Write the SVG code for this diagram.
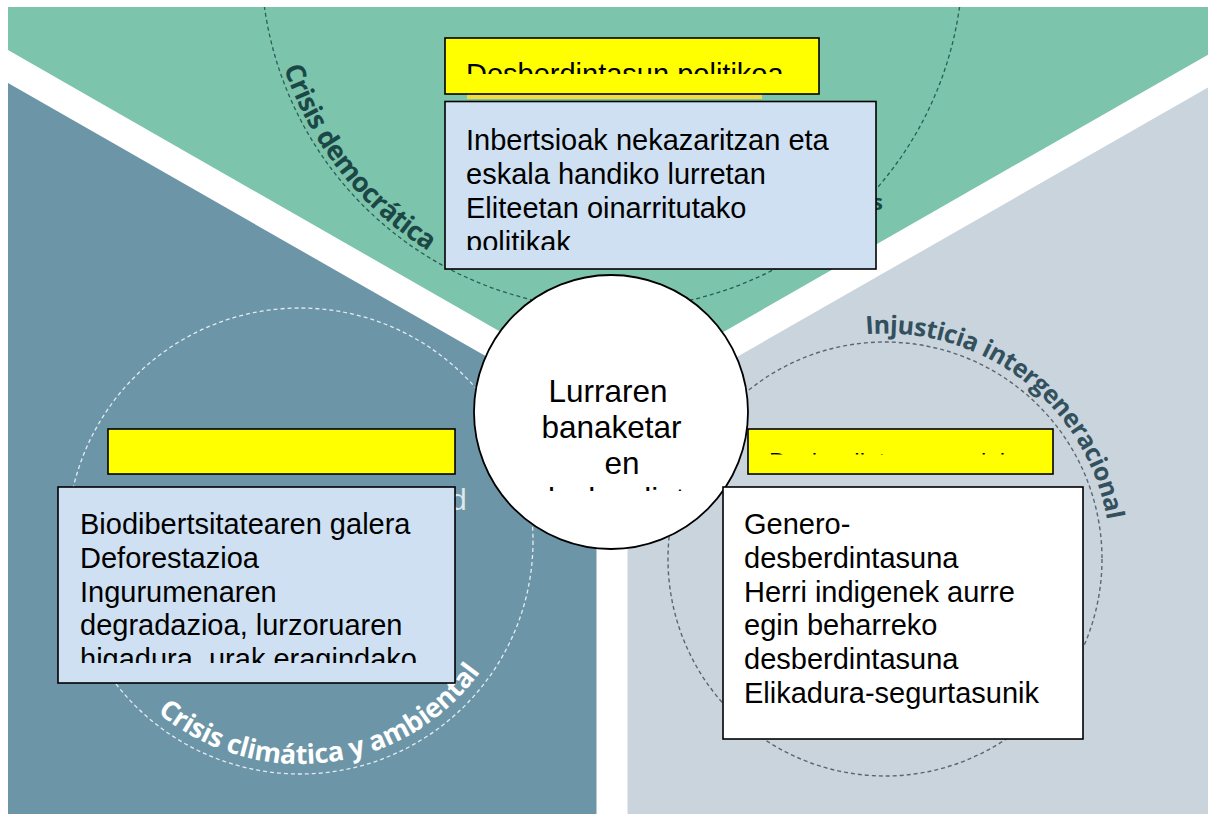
<svg xmlns="http://www.w3.org/2000/svg" width="1208" height="814" viewBox="0 0 1208 814">
  <style>
    .box { stroke: #000; stroke-width: 1.6; }
    .title { fill: #ffff00; }
    .blue { fill: #cfe0f2; }
    .white { fill: #ffffff; }
    .t { font-family: "Liberation Sans", Arial, sans-serif; font-size: 29px; fill: #000; }
    .t24 { font-family: "Liberation Sans", Arial, sans-serif; font-size: 24px; fill: #000; }
    .ct { font-family: "Liberation Sans", Arial, sans-serif; font-size: 31.5px; fill: #000; text-anchor: middle; }
    .arc { font-family: "Open Sans", "DejaVu Sans", sans-serif; font-weight: 700; }
    .band { stroke: #ffffff; fill: none; }
  </style>
  <defs>
    <clipPath id="clipArea"><rect x="8" y="7" width="1200" height="807"/></clipPath>
    <clipPath id="clipTopTitle"><rect x="445" y="38" width="375" height="36"/></clipPath>
    <clipPath id="clipTopBox"><rect x="445" y="101" width="431" height="149"/></clipPath>
    <clipPath id="clipLeftBox"><rect x="58" y="487" width="397" height="176"/></clipPath>
    <clipPath id="clipRightTitle"><rect x="748" y="429" width="305" height="25.5"/></clipPath>
    <clipPath id="clipCircle"><rect x="474" y="275" width="274" height="216"/></clipPath>
    <path id="arcTop" d="M267.3,-11.8 A346,346 0 0 0 551.9,298.7"/>
    <path id="arcLeft" d="M129.2,684.3 A223,223 0 0 0 502.1,635.2"/>
    <path id="arcRight" d="M826.6,341.2 A225.5,225.5 0 0 1 1109.6,578.7"/>
  </defs>

  <!-- background -->
  <rect x="0" y="0" width="1208" height="814" fill="#ffffff"/>
  <g id="background" clip-path="url(#clipArea)">
    <polygon points="0,0 1208,0 1208,71.1 612,412 0,62" fill="#7cc4ab"/>
    <polygon points="0,62 612,412 612,814 0,814" fill="#6c96a8"/>
    <polygon points="612,412 1208,71.1 1208,814 612,814" fill="#c9d4dd"/>
    <line class="band" x1="612" y1="412" x2="-10" y2="56.2" stroke-width="28.5"/>
    <line class="band" x1="612" y1="412" x2="1220" y2="64.2" stroke-width="28.5"/>
    <line class="band" x1="612" y1="412" x2="612" y2="830" stroke-width="31"/>

    <circle cx="612" cy="-42" r="351" fill="none" stroke="#2b5d5a" stroke-width="1.3" stroke-dasharray="4 3"/>
    <circle cx="300" cy="541" r="233" fill="none" stroke="#e2ecf0" stroke-width="1.3" stroke-dasharray="4 3"/>
    <circle cx="885" cy="559" r="217" fill="none" stroke="#5b6770" stroke-width="1.4" stroke-dasharray="4 3"/>

    <text class="arc" font-size="27" fill="#1c4747"><textPath href="#arcTop" startOffset="81.5" textLength="238" lengthAdjust="spacing">Crisis democrática</textPath></text>
    <text class="arc" font-size="27" fill="#ffffff"><textPath href="#arcLeft" startOffset="39.7" textLength="365" lengthAdjust="spacing">Crisis climática y ambiental</textPath></text>
    <text class="arc" font-size="25" fill="#33505d"><textPath href="#arcRight" startOffset="40" textLength="334" lengthAdjust="spacing">Injusticia intergeneracional</textPath></text>

    <text class="arc" x="872" y="210" font-size="22" fill="#1c4747">s</text>
    <text x="450" y="510" font-family="Liberation Sans, Arial, sans-serif" font-size="30" fill="#dfe7eb">d</text>
    <rect x="467" y="94" width="295" height="5" fill="#f0dc3c"/>
  </g>

  <!-- center node -->
  <g id="node-center">
    <circle cx="611" cy="412" r="137" fill="#ffffff" stroke="#000" stroke-width="1.8"/>
    <g clip-path="url(#clipCircle)">
      <text class="ct" x="608" y="402">Lurraren</text>
      <text class="ct" x="611.5" y="438">banaketar</text>
      <text class="ct" x="622" y="474">en</text>
      <text class="ct" x="611" y="510">desberdint</text>
    </g>
  </g>

  <!-- top -->
  <g id="node-top-title">
    <rect class="box title" x="445" y="38" width="374" height="56"/>
    <g clip-path="url(#clipTopTitle)">
      <text class="t" x="466" y="84">Desberdintasun politikoa</text>
    </g>
  </g>
  <g id="node-top-box">
    <rect class="box blue" x="445" y="101.5" width="431" height="167.5"/>
    <g clip-path="url(#clipTopBox)">
      <text class="t" x="466" y="149.5">Inbertsioak nekazaritzan eta</text>
      <text class="t" x="466" y="183.5">eskala handiko lurretan</text>
      <text class="t" x="466" y="217.5">Eliteetan oinarritutako</text>
      <text class="t" x="466" y="251.5">politikak</text>
    </g>
  </g>

  <!-- left -->
  <g id="node-left-title">
    <rect class="box title" x="108" y="429" width="347" height="45"/>
  </g>
  <g id="node-left-box">
    <rect class="box blue" x="58" y="487" width="397" height="196"/>
    <g clip-path="url(#clipLeftBox)">
      <text class="t" x="80" y="534">Biodibertsitatearen galera</text>
      <text class="t" x="80" y="567.8">Deforestazioa</text>
      <text class="t" x="80" y="601.6">Ingurumenaren</text>
      <text class="t" x="80" y="635.4">degradazioa, lurzoruaren</text>
      <text class="t" x="80" y="669.2">higadura, urak eragindako</text>
    </g>
  </g>

  <!-- right -->
  <g id="node-right-title">
    <rect class="box title" x="748" y="429" width="305" height="45"/>
    <g clip-path="url(#clipRightTitle)">
      <text class="t24" x="769" y="469.5">Desberdintasun soziala</text>
    </g>
  </g>
  <g id="node-right-box">
    <rect class="box white" x="723" y="487" width="360" height="252"/>
    <text class="t" x="744" y="534">Genero-</text>
    <text class="t" x="744" y="567.7">desberdintasuna</text>
    <text class="t" x="744" y="601.5">Herri indigenek aurre</text>
    <text class="t" x="744" y="635.2">egin beharreko</text>
    <text class="t" x="744" y="669">desberdintasuna</text>
    <text class="t" x="744" y="702.7">Elikadura-segurtasunik</text>
  </g>

  <g id="connectors"></g>
</svg>
